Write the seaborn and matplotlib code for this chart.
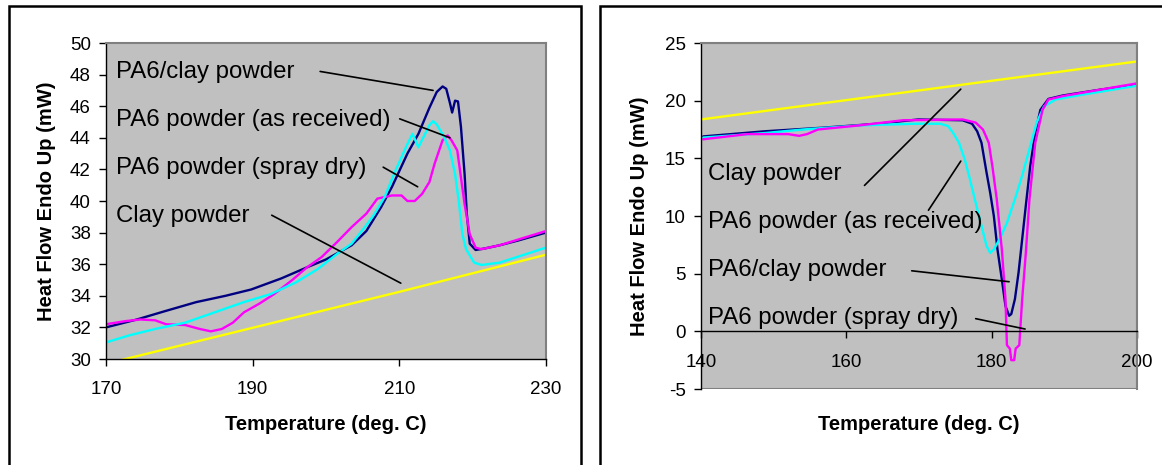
import numpy as np
import pandas as pd
import seaborn as sns
import matplotlib.pyplot as plt
from matplotlib.patches import Rectangle

# --- Heating scan (left panel) ---
heat_clay_pa6_t = [170, 174.2, 178.2, 182.3, 186.3, 189.8, 193.9, 197.4, 200, 203.5, 205.5, 207.5,
                   209.0, 211.1, 212.6, 214.1, 215.1, 215.9, 216.4, 216.9, 217.2, 217.6, 218.0,
                   218.4, 218.9, 219.2, 219.6, 220.4, 221.7, 223.7, 226.2, 230]
heat_clay_pa6_q = [32.0, 32.5, 33.05, 33.6, 34.0, 34.4, 35.1, 35.8, 36.3, 37.2, 38.1, 39.6,
                   40.9, 43.0, 44.25, 45.9, 46.9, 47.25, 47.1, 46.2, 45.6, 46.35, 46.3,
                   44.7, 41.7, 39.2, 37.3, 36.9, 37.0, 37.2, 37.5, 38.0]

heat_spray_t = [170, 172.7, 174.7, 176.7, 178.2, 180.8, 182.8, 184.3, 185.8, 187.3, 188.8, 190.9,
                192.9, 195.4, 197.4, 199.4, 201.5, 203.5, 205.5, 207.0, 208.0, 209.0, 210.3,
                211.1, 212.1, 213.1, 214.1, 214.8, 215.9, 216.6, 217.1, 217.9, 218.4, 218.9,
                219.6, 220.4, 221.2, 223.7, 230]
heat_spray_q = [32.2, 32.4, 32.5, 32.45, 32.2, 32.15, 31.9, 31.75, 31.9, 32.3, 32.95, 33.5,
                34.1, 35.0, 35.8, 36.45, 37.4, 38.35, 39.2, 40.15, 40.25, 40.35, 40.35,
                40.0, 40.0, 40.45, 41.2, 42.35, 43.85, 44.15, 43.85, 43.2, 41.5, 39.8,
                37.9, 37.05, 36.95, 37.2, 38.1]

heat_recv_t = [170, 173.2, 176.7, 180.8, 184.8, 188.8, 192.4, 195.9, 198.9, 201.5, 203.5, 205.3,
               206.5, 208.0, 209.5, 211.1, 211.8, 212.6, 213.3, 214.1, 214.6, 215.1, 216.1,
               216.9, 217.6, 218.1, 218.6, 219.1, 220.2, 221.2, 223.7, 230]
heat_recv_q = [31.05, 31.5, 31.9, 32.3, 32.95, 33.6, 34.1, 34.85, 35.7, 36.65, 37.3, 38.35,
               39.1, 40.25, 41.95, 43.6, 44.25, 43.4, 44.05, 44.8, 45.05, 44.85, 44.05,
               43.2, 41.7, 40.0, 37.9, 36.95, 36.1, 35.95, 36.1, 37.05]

heat_claypow_t = [170, 210, 230]
heat_claypow_q = [29.7, 34.25, 36.6]

# --- Cooling scan (right panel) ---
cool_clay_pa6_t = [140.3, 148.9, 156.6, 164.3, 169.9, 176.0, 177.3, 178.0, 178.6, 179.3, 179.8,
                   180.3, 180.8, 181.4, 181.9, 182.4, 182.7, 183.2, 183.7, 184.2, 184.7, 185.3,
                   186.0, 186.7, 187.8, 189.8, 194.9, 200]
cool_clay_pa6_q = [16.9, 17.35, 17.65, 18.0, 18.37, 18.3, 18.0, 17.35, 16.35, 13.75, 12.0,
                   10.0, 7.1, 4.5, 2.2, 1.35, 1.5, 2.8, 5.1, 8.0, 10.9, 14.3,
                   17.2, 19.2, 20.15, 20.45, 20.95, 21.4]

cool_spray_t = [140.3, 146.4, 152.0, 153.5, 154.6, 156.1, 161.7, 167.8, 176.0, 177.8, 178.8,
                179.6, 180.1, 180.7, 181.4, 181.9, 182.1, 182.5, 182.7, 183.1, 183.3, 183.8,
                184.2, 184.7, 185.2, 186.0, 187.0, 187.8, 189.8, 194.9, 200]
cool_spray_q = [16.65, 17.1, 17.1, 16.95, 17.1, 17.5, 17.85, 18.3, 18.37, 18.1, 17.5,
                16.35, 14.3, 11.45, 7.1, 2.8, -1.2, -1.5, -2.5, -2.5, -1.5, -1.2,
                2.8, 6.8, 11.45, 16.35, 19.2, 20.1, 20.4, 20.95, 21.5]

cool_recv_t = [140.3, 148.9, 154.0, 161.7, 169.4, 172.9, 174.0, 174.7, 175.5, 176.3, 177.0,
               177.8, 178.6, 179.3, 179.8, 180.3, 181.1, 182.1, 183.2, 184.2, 185.2, 186.2,
               187.2, 188.8, 192.3, 200]
cool_recv_q = [16.8, 17.2, 17.5, 17.85, 18.0, 18.0, 17.8, 17.2, 16.35, 14.9, 13.2,
               11.15, 9.15, 7.4, 6.8, 7.1, 8.0, 9.4, 11.45, 13.5, 15.8, 18.1,
               19.5, 20.1, 20.5, 21.3]

cool_claypow_t = [140, 200]
cool_claypow_q = [18.37, 23.4]

# labels and leader lines (start x, start y, end x, end y)
heat_labels = ["PA6/clay powder", "PA6 powder (as received)", "PA6 powder (spray dry)", "Clay powder"]
heat_label_y = [48.16, 45.14, 42.1, 39.08]
heat_leaders = [(199.2, 48.2, 214.6, 47.0), (210.05, 45.2, 216.9, 44.0),
                (207.8, 42.14, 212.5, 40.9), (192.6, 39.1, 210.2, 34.8)]

cool_labels = ["Clay powder", "PA6 powder (as received)", "PA6/clay powder", "PA6 powder (spray dry)"]
cool_label_y = [13.6, 9.5, 5.3, 1.15]
cool_leaders = [(162.5, 12.65, 175.75, 21.0), (171.3, 10.5, 175.75, 14.76),
                (169.0, 5.25, 182.4, 4.3), (177.8, 1.1, 184.6, 0.2)]

colors = {"clay_pa6": "#000080", "spray": "#FF00FF", "recv": "#00FFFF", "claypow": "#FFFF00"}

sns.set_theme(style="white")
plt.rcParams['font.family'] = ['Liberation Sans', 'DejaVu Sans']
plt.rcParams['text.color'] = 'black'
plt.rcParams['axes.labelcolor'] = 'black'
plt.rcParams['xtick.color'] = 'black'
plt.rcParams['ytick.color'] = 'black'
plt.rcParams['axes.unicode_minus'] = False

fig = plt.figure(figsize=(11.62, 4.65), dpi=100)
W, H = 1162, 465
ax1 = fig.add_axes([106 / W, 1 - 359 / H, 440 / W, 316 / H])
ax2 = fig.add_axes([701 / W, 1 - 389 / H, 436 / W, 346 / H])

# outer chart frames
fig.add_artist(Rectangle((9 / W, -0.05), 572 / W, 1.05 - 6.5 / H, transform=fig.transFigure,
                         fill=False, edgecolor='black', lw=1.8, clip_on=False))
fig.add_artist(Rectangle((600 / W, -0.05), 0.6, 1.05 - 6.5 / H, transform=fig.transFigure,
                         fill=False, edgecolor='black', lw=1.8, clip_on=False))


def draw_series(ax, series):
    for t, q, c in series:
        sns.lineplot(x=t, y=q, ax=ax, color=colors[c], lw=1.7, estimator=None, sort=False)


draw_series(ax1, [(heat_claypow_t, heat_claypow_q, "claypow"),
                  (heat_clay_pa6_t, heat_clay_pa6_q, "clay_pa6"),
                  (heat_spray_t, heat_spray_q, "spray"),
                  (heat_recv_t, heat_recv_q, "recv")])
draw_series(ax2, [(cool_claypow_t, cool_claypow_q, "claypow"),
                  (cool_clay_pa6_t, cool_clay_pa6_q, "clay_pa6"),
                  (cool_recv_t, cool_recv_q, "recv"),
                  (cool_spray_t, cool_spray_q, "spray")])

for lab, y, (x0, y0, x1, y1) in zip(heat_labels, heat_label_y, heat_leaders):
    ax1.text(171.3, y, lab, fontsize=17.3, va='center', ha='left', color='black')
    ax1.plot([x0, x1], [y0, y1], color='black', lw=1.2)
for lab, y, (x0, y0, x1, y1) in zip(cool_labels, cool_label_y, cool_leaders):
    ax2.text(141.0, y, lab, fontsize=17.3, va='center', ha='left', color='black')
    ax2.plot([x0, x1], [y0, y1], color='black', lw=1.2)

ax1.set_xlim(170, 230)
ax1.set_ylim(30, 50)
ax1.set_xticks([170, 190, 210, 230])
ax1.set_yticks(np.arange(30, 51, 2))
ax2.set_xlim(140, 200)
ax2.set_ylim(-5, 25)
ax2.set_xticks([140, 160, 180, 200])
ax2.set_yticks(np.arange(-5, 26, 5))

for ax in (ax1, ax2):
    ax.set_facecolor('#C0C0C0')
    ax.tick_params(axis='both', direction='out', length=5, width=1, color='black',
                   labelsize=13.5, labelcolor='black', left=True, bottom=True)
    ax.tick_params(axis='y', pad=6)
    ax.tick_params(axis='x', pad=11)
    ax.spines['left'].set_color('black')
    ax.spines['left'].set_linewidth(1)
    ax.spines['bottom'].set_color('black')
    ax.spines['bottom'].set_linewidth(1)
    ax.spines['top'].set_color('#808080')
    ax.spines['right'].set_color('#808080')
    ax.spines['top'].set_linewidth(1.5)
    ax.spines['right'].set_linewidth(1.5)
    ax.set_xlabel('Temperature (deg. C)', fontsize=14.5, fontweight='bold', color='black')
    ax.set_ylabel('Heat Flow Endo Up (mW)', fontsize=14.5, fontweight='bold', color='black')

# cooling panel: x axis crosses at zero, gray frame around plot area
ax2.spines['bottom'].set_position(('data', 0))
ax2.add_patch(Rectangle((0, 0), 1, 1, transform=ax2.transAxes, fill=False,
                        edgecolor='#808080', lw=1.5, zorder=0.5))

ax1.xaxis.set_label_coords(0.5, (359 - 415) / 316)
ax1.yaxis.set_label_coords((56 - 106) / 440, 0.5)
ax2.xaxis.set_label_coords(0.5, (389 - 415) / 346)
ax2.yaxis.set_label_coords((649 - 701) / 436, 0.5)

fig.savefig('out.png', dpi=100)
